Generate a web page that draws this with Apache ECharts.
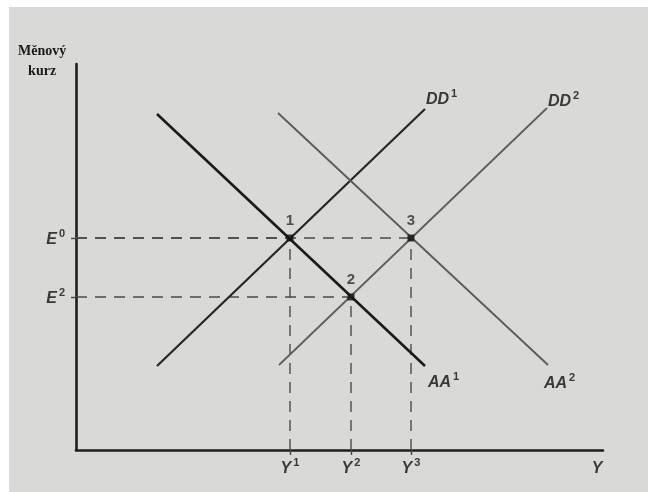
<!DOCTYPE html>
<html>
<head>
<meta charset="utf-8">
<script src="https://cdn.jsdelivr.net/npm/echarts@6/dist/echarts.min.js"></script>
<style>
html,body{margin:0;padding:0;background:#ffffff;}
#bg{position:absolute;left:9px;top:7px;width:639px;height:485px;background:#d9d9d7;}
#chart{position:absolute;left:0;top:0;width:648px;height:492px;}
</style>
</head>
<body>
<div id="bg"></div>
<div id="chart"></div>
<script>
// ---- data (diagram units) ----
const xMax = 527;
const yMax = 386;

const curveNames = ['AA', 'DD', 'AA', 'DD'];
const curveSups = ['1', '1', '2', '2'];
const curveStart = [[81, 336], [81, 84], [202, 337], [203, 85]];
const curveEnd = [[349, 84], [349, 341], [472, 85], [471, 342]];

const pointNames = ['1', '2', '3'];
const pointX = [214, 275, 335];
const pointY = [212, 153, 212];

const xTickValues = [214, 275, 335];
const xLabelValues = [214, 275, 335, 521];
const xLabelMain = ['Y', 'Y', 'Y', 'Y'];
const xLabelSup = ['1', '2', '3', ''];

const yTickValues = [212, 153];
const yLabelMain = ['E', 'E'];
const yLabelSup = ['0', '2'];

const yAxisTitle = 'Měnový\nkurz';

// ---- styling ----
const txtFont = 'Liberation Sans';
const txtColor = '#383838';
const rich = {
  m: {fontSize: 16, fontStyle: 'italic', fontWeight: 'bold', fontFamily: txtFont, color: txtColor, verticalAlign: 'bottom', lineHeight: 20},
  s: {fontSize: 11, fontFamily: txtFont, fontWeight: 'bold', color: txtColor, verticalAlign: 'top', lineHeight: 20, padding: [0, 0, 0, 2]}
};
function richLabel(main, sup) {
  return sup ? '{m|' + main + '}{s|' + sup + '}' : '{m|' + main + '}';
}

const curveColors = ['#1a1a1a', '#262626', '#5a5a5a', '#5e5e5e'];
const curveWidths = [2.6, 2.2, 1.8, 1.8];
const curveLabelOffsets = [[-2, 15], [-4, -11], [-9, 17], [-4, -8]];

const series = [];

// dashed guide lines
const guides = [];
for (let i = 0; i < pointX.length; i++) {
  guides.push([[0, pointY[i]], [pointX[i], pointY[i]]]);
  guides.push([[pointX[i], 0], [pointX[i], pointY[i]]]);
}
guides.forEach(g => {
  series.push({
    type: 'line', data: g, symbol: 'none', silent: true, z: 1,
    lineStyle: {color: '#4a4a4a', width: 1.4, type: [11, 8]}
  });
});

// curves
for (let i = 0; i < curveNames.length; i++) {
  series.push({
    type: 'line', symbol: 'none', z: 3,
    lineStyle: {color: curveColors[i], width: curveWidths[i]},
    endLabel: {
      show: true, distance: 5, offset: curveLabelOffsets[i],
      formatter: richLabel(curveNames[i], curveSups[i]), rich: rich
    },
    data: [curveStart[i], curveEnd[i]]
  });
}

// equilibrium points
series.push({
  type: 'scatter', symbol: 'rect', symbolSize: 7, z: 5,
  itemStyle: {color: '#111'},
  label: {show: true, position: 'top', distance: 6, fontSize: 15, fontWeight: 'bold', fontFamily: txtFont, color: '#2a2a2a',
    formatter: p => pointNames[p.dataIndex]},
  data: pointX.map((x, i) => [x, pointY[i]])
});

const chart = echarts.init(document.getElementById('chart'), null, {renderer: 'canvas'});
chart.setOption({
  animation: false,
  backgroundColor: 'transparent',
  grid: {left: 76, right: 45, top: 64, bottom: 42, containLabel: false},
  xAxis: {
    type: 'value', min: 0, max: xMax,
    splitLine: {show: false},
    axisLine: {show: true, onZero: false, lineStyle: {color: '#1e1e1e', width: 2.6}},
    axisTick: {show: true, customValues: xTickValues, length: 5, lineStyle: {color: '#444', width: 1.4}},
    axisLabel: {
      show: true, customValues: xLabelValues, margin: 7,
      formatter: v => { const i = xLabelValues.indexOf(v); return i < 0 ? '' : richLabel(xLabelMain[i], xLabelSup[i]); },
      rich: rich
    }
  },
  yAxis: {
    type: 'value', min: 0, max: yMax,
    splitLine: {show: false},
    axisLine: {show: true, onZero: false, lineStyle: {color: '#1e1e1e', width: 2.6}},
    axisTick: {show: true, customValues: yTickValues, length: 5, lineStyle: {color: '#444', width: 1.4}},
    axisLabel: {
      show: true, customValues: yTickValues, margin: 11,
      formatter: v => { const i = yTickValues.indexOf(v); return i < 0 ? '' : richLabel(yLabelMain[i], yLabelSup[i]); },
      rich: rich
    }
  },
  graphic: [{
    type: 'text', left: 18, top: 41,
    style: {text: yAxisTitle, fontFamily: 'Liberation Serif', fontWeight: 'bold', fontSize: 14,
      fill: '#1a1a1a', align: 'center', lineHeight: 20, textAlign: 'center'}
  }],
  series: series
});
</script>
</body>
</html>
